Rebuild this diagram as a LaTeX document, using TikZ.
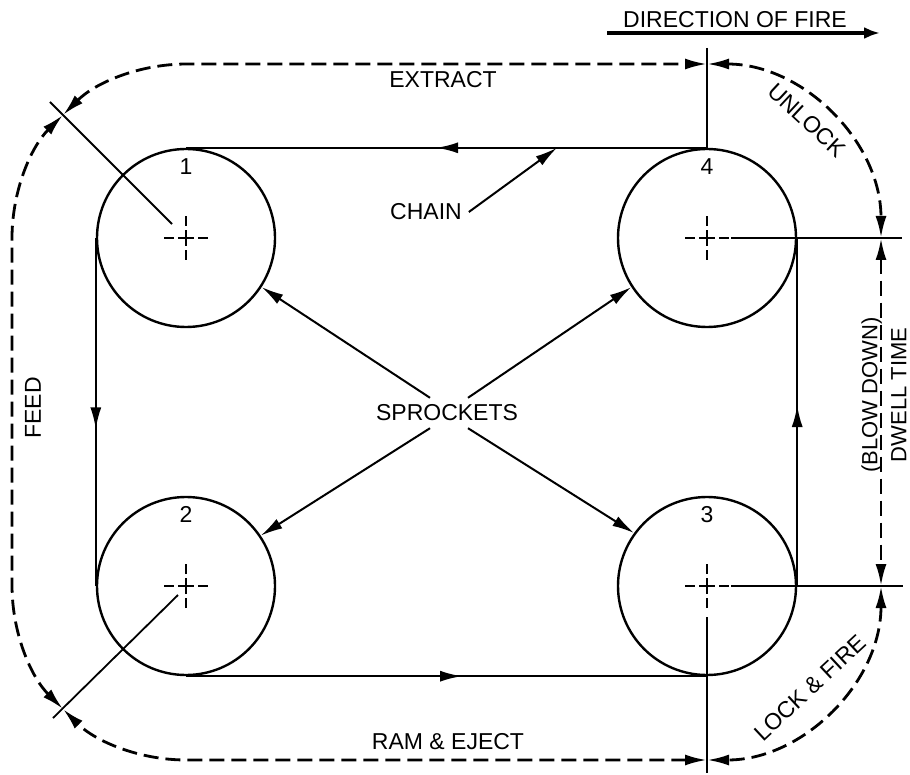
\documentclass[tikz,border=0pt]{standalone}
\usepackage{fontspec}
\setmainfont{Liberation Sans}
\usetikzlibrary{arrows.meta,positioning,calc,decorations.markings}

\newcommand{\ctrmark}[1]{%
  \draw[ctrline] ([xshift=-11pt]#1.center) -- ([xshift=11pt]#1.center);
  \draw[ctrline] ([yshift=-11pt]#1.center) -- ([yshift=11pt]#1.center);}

\begin{document}
\begin{tikzpicture}[x=0.5pt, y=-0.5pt, font=\fontsize{11.5}{14}\selectfont,
    >={Latex[length=11pt,width=5.5pt]},
    sprocket/.style={draw, circle, line width=1.2pt, minimum size=89pt, inner sep=0pt},
    chainln/.style={line width=1.2pt, postaction={decorate},
      decoration={markings, mark=at position #1 with {\arrow{>}}}},
    dimln/.style={dash pattern=on 7.5pt off 3.5pt, line width=1.4pt, <->},
    tick/.style={line width=0.9pt},
    ctrline/.style={line width=0.7pt, dash pattern=on 5pt off 2pt on 8pt off 2pt on 5pt},
    ptr/.style={line width=1pt, ->},
    num/.style={inner sep=0pt}]
        \useasboundingbox (0,0) rectangle (910,775);

        \node[sprocket] (s1) at (186,238) {};
        \node[sprocket] (s4) at (707,238) {};
        \node[sprocket] (s2) at (186,586) {};
        \node[sprocket] (s3) at (707,586) {};

        \node[num, below=5pt of s1.north] (n1) {1};
        \node[num, below=5pt of s4.north] (n4) {4};
        \node[num, below=5pt of s2.north] (n2) {2};
        \node[num, below=5pt of s3.north] (n3) {3};

        \ctrmark{s1}
        \ctrmark{s2}
        \ctrmark{s3}
        \ctrmark{s4}

        % chain
        \draw[chainln=0.52] (s4.north) -- (s1.north);
        \draw[chainln=0.55] (s1.west) -- (s2.west);
        \draw[chainln=0.53] (s2.south) -- (s3.south);
        \draw[chainln=0.52] (s3.east) -- (s4.east);

        % ticks
        \coordinate (tTL) at (63,115);
        \coordinate (tT) at (707,64);
        \coordinate (tR) at (881,238);
        \coordinate (tBR) at (881,586);
        \coordinate (tB) at (707,760);
        \coordinate (tBL) at (63,709);
        \draw[tick] (707,48) -- (s4.north);
        \draw[tick] ([xshift=12pt]s4.center) -- (902,238);
        \draw[tick] ([xshift=12pt]s3.center) -- (903,586);
        \draw[tick] ([yshift=-15.5pt]s3.center) -- (707,773);
        \draw[tick] (172,224) -- (50,102);
        \draw[tick] (178,595) -- (53,718);

        % firing cycle
        \draw[dimln] (tTL) arc[start angle=135, end angle=90, radius=87pt] -- (tT);
        \draw[dimln] (tT) arc[start angle=90, end angle=0, radius=87pt];
        \draw[dimln] (tR) -- (tBR);
        \draw[dimln] (tBR) arc[start angle=0, end angle=-90, radius=87pt];
        \draw[dimln] (tB) -- (186,760) arc[start angle=-90, end angle=-135, radius=87pt];
        \draw[dimln] (tBL) arc[start angle=-135, end angle=-180, radius=87pt] -- (12,238)
            arc[start angle=180, end angle=135, radius=87pt];

        \node (extract) at (443,80) {EXTRACT};
        \node[rotate=-43] (unlock) at (807,120) {UNLOCK};
        \node[rotate=90, align=center, font=\fontsize{11}{14.5}\selectfont] (dwell) at (884,395) {(BLOW DOWN)\\DWELL TIME};
        \node[rotate=43] (lockfire) at (810,688) {LOCK \& FIRE};
        \node (ram) at (448,742) {RAM \& EJECT};
        \node[rotate=90] (feed) at (33,408) {FEED};

        \node (spk) at (447,413) {SPROCKETS};
        \draw[ptr] ([xshift=-8.5pt]spk.north) -- (s1.-33);
        \draw[ptr] ([xshift=10.5pt]spk.north) -- (s4.-147);
        \draw[ptr] ([xshift=-8.5pt]spk.south) -- (s2.34);
        \draw[ptr] ([xshift=10.5pt]spk.south) -- (s3.144);

        \node (chain) at (426,212) {CHAIN};
        \draw[ptr] (chain.east) -- ($(s1.north)!0.712!(s4.north)$);

        \node (dir) at (735,20) {DIRECTION OF FIRE};
        \coordinate (dirA) at (607,33);
        \coordinate (dirB) at (880,33);
        \draw[line width=2pt, -{Latex[length=8pt,width=6pt]}] (dirA) -- (dirB);
    \end{tikzpicture}
\end{document}
